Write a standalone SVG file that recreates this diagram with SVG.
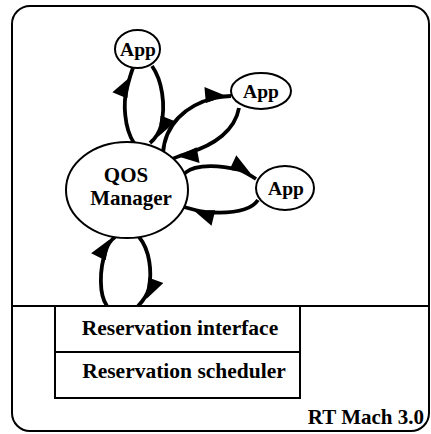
<svg xmlns="http://www.w3.org/2000/svg" width="431" height="434" viewBox="0 0 431 434">
<defs>
<style>
.t{font-family:"Liberation Serif","Times New Roman",serif;font-weight:bold;fill:#000;text-anchor:middle}
.n{fill:#fff;stroke:#000;stroke-width:2}
.c{fill:none;stroke:#000;stroke-width:3.8;marker-mid:url(#ah)}
.b{fill:none;stroke:#000;stroke-width:2}
</style>
<marker id="ah" markerWidth="22" markerHeight="18" refX="10" refY="13" orient="auto" markerUnits="userSpaceOnUse">
<path d="M0,16 L21,13 L2,0 z" fill="#000"/>
</marker>
</defs>
<rect id="frame" class="b" x="12" y="6" width="417" height="425" rx="18"/>
<line class="b" x1="12" y1="306" x2="429" y2="306"/>
<g id="connectors">
<path class="c" d="M134,143 C124,128 123,102 127,88 C129,80 131,73 133,68"/>
<path class="c" d="M152,66 C162,80 166,105 161,126 C159,133 156,138 150,143"/>
<path class="c" d="M163,153 C165,125 185,105 215,98 C220,97 225,96 231,96"/>
<path class="c" d="M239,108 C235,130 215,145 188,153 C182,155 177,157 172,159"/>
<path class="c" d="M183,176 C188,166 210,163 240,170 C245,172 250,175 256,179"/>
<path class="c" d="M258,200 C250,212 230,214 205,212 C198,211 191,209 184,207"/>
<path class="c" d="M107,306 C99,295 99,270 106,250 C108,244 111,240 115,237"/>
<path class="c" d="M139,237 C150,250 152,272 149,288 C147,296 143,301 138,306"/>
</g>
<g id="qos">
<ellipse class="n" cx="127" cy="190" rx="61" ry="48"/>
<text class="t" x="126" y="182" font-size="21">QOS</text>
<text class="t" x="131" y="205" font-size="21">Manager</text>
</g>
<g id="app1">
<ellipse class="n" cx="137.5" cy="49" rx="22.5" ry="19"/>
<text class="t" x="138" y="55.5" font-size="19.5">App</text>
</g>
<g id="app2">
<ellipse class="n" cx="261" cy="91" rx="30" ry="18"/>
<text class="t" x="261" y="97.5" font-size="19.5">App</text>
</g>
<g id="app3">
<ellipse class="n" cx="285" cy="188" rx="29" ry="22"/>
<text class="t" x="286" y="194.5" font-size="19.5">App</text>
</g>
<g id="resif">
<rect class="b" x="55" y="306" width="245" height="46" fill="#fff"/>
<text class="t" x="180" y="335" font-size="21.5">Reservation interface</text>
</g>
<g id="ressched">
<rect class="b" x="55" y="352" width="245" height="46" fill="#fff"/>
<text class="t" x="184" y="378" font-size="21.5">Reservation scheduler</text>
</g>
<text class="t" x="424" y="424" font-size="21" style="text-anchor:end">RT Mach 3.0</text>
</svg>
